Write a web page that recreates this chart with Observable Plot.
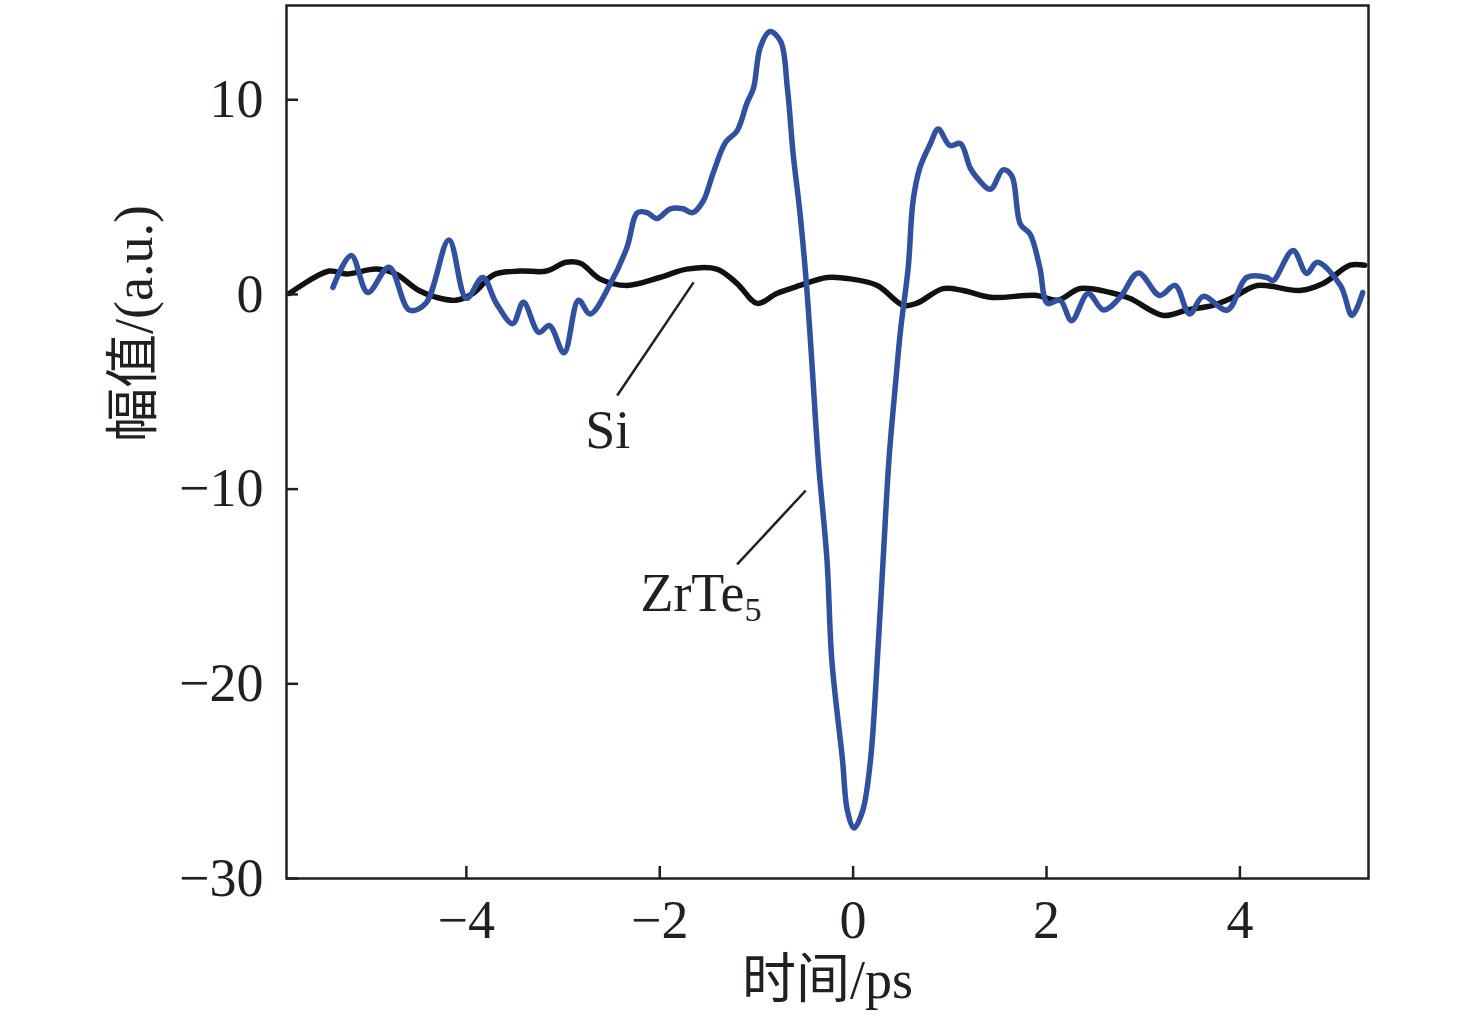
<!DOCTYPE html>
<html>
<head>
<meta charset="utf-8">
<script src="https://cdn.jsdelivr.net/npm/d3@7"></script>
<script src="https://cdn.jsdelivr.net/npm/@observablehq/plot@0.6"></script>
<style>
  html, body { margin: 0; padding: 0; background: #fff; }
  #chart svg { display: block; }
</style>
</head>
<body>
<div id="chart"></div>
<script>
// Time (ps) and amplitude (a.u.)
const siTime = [-5.83, -5.42, -5.24, -4.93, -4.73, -4.49, -4.31, -4.11, -3.93, -3.72, -3.45, -3.17, -2.97, -2.82, -2.62, -2.34, -2.00, -1.72, -1.41, -1.20, -0.99, -0.79, -0.55, -0.27, -0.03, 0.25, 0.52, 0.66, 0.93, 1.14, 1.42, 1.90, 2.11, 2.35, 2.66, 2.86, 3.21, 3.45, 3.72, 3.93, 4.18, 4.62, 4.86, 5.14, 5.29];
const siAmp  = [0.05, 1.2, 1.05, 1.3, 1.05, 0.2, -0.15, -0.3, 0.05, 1.0, 1.2, 1.2, 1.65, 1.6, 0.8, 0.46, 0.87, 1.3, 1.3, 0.56, -0.46, 0.05, 0.46, 0.87, 0.8, 0.46, -0.56, -0.45, 0.3, 0.2, -0.15, -0.05, -0.3, 0.3, 0.1, -0.2, -1.08, -0.8, -0.56, -0.15, 0.46, 0.2, 0.56, 1.5, 1.5];

const zrTime = [-5.38, -5.19, -5.02, -4.80, -4.59, -4.42, -4.18, -4.00, -3.83, -3.69, -3.52, -3.41, -3.25, -3.14, -2.99, -2.84, -2.72, -2.51, -2.34, -2.23, -2.13, -2.03, -1.89, -1.76, -1.66, -1.55, -1.45, -1.32, -1.20, -1.10, -1.03, -0.96, -0.86, -0.75, -0.68, -0.62, -0.55, -0.48, -0.42, -0.36, -0.27, -0.22, -0.11, -0.06, 0.01, 0.10, 0.18, 0.25, 0.31, 0.37, 0.44, 0.49, 0.57, 0.62, 0.69, 0.80, 0.88, 1.00, 1.11, 1.21, 1.28, 1.42, 1.55, 1.64, 1.73, 1.83, 1.93, 2.01, 2.14, 2.26, 2.43, 2.59, 2.76, 2.95, 3.17, 3.33, 3.48, 3.62, 3.87, 4.07, 4.28, 4.34, 4.55, 4.69, 4.80, 5.04, 5.16, 5.27];
const zrAmp  = [0.36, 2.0, 0.1, 1.4, -0.8, -0.46, 2.8, -0.2, 0.87, -0.46, -1.5, -0.4, -1.95, -1.6, -3.0, -0.3, -1.0, 0.56, 2.4, 4.2, 4.2, 3.9, 4.4, 4.4, 4.2, 4.8, 6.2, 7.8, 8.4, 9.8, 10.6, 12.7, 13.5, 13.0, 10.6, 7.2, 4.2, 0.36, -4.0, -8.53, -13.66, -18.8, -23.9, -26.5, -27.4, -26.5, -23.9, -18.8, -13.66, -8.53, -4.5, -1.85, 1.4, 4.8, 6.5, 7.75, 8.5, 7.65, 7.75, 6.5, 6.0, 5.4, 6.4, 6.1, 3.6, 3.1, 1.4, -0.46, -0.3, -1.35, 0.05, -0.8, -0.15, 1.1, -0.05, 0.46, -1.0, -0.1, -0.8, 0.87, 0.87, 0.7, 2.26, 1.08, 1.65, 0.46, -1.08, 0.1];

const xTicks = [-4, -2, 0, 2, 4];
const yTicks = [10, 0, -10, -20, -30];
const xLabel = "时间/ps";
const yLabel = "幅值/(a.u.)";

// Series labels with leader lines (data units)
const labelNames = ["Si", "ZrTe5"];
const labelX = [-2.77, -2.20];
const labelY = [-6.98, -15.36];
const leaderX1 = [-2.44, -1.20];
const leaderY1 = [-5.19, -13.87];
const leaderX2 = [-1.65, -0.49];
const leaderY2 = [0.62, -10.07];

const si = siTime.map((t, i) => ({t, v: siAmp[i]}));
const zr = zrTime.map((t, i) => ({t, v: zrAmp[i]}));
const labels = labelNames.map((name, i) => ({name, x: labelX[i], y: labelY[i]}));
const leaders = labelNames.map((name, i) => ({x1: leaderX1[i], y1: leaderY1[i], x2: leaderX2[i], y2: leaderY2[i]}));

const FONT = "'Liberation Serif', 'Times New Roman', 'Noto Sans CJK SC', serif";

const chart = Plot.plot({
  width: 1476,
  height: 1023,
  marginLeft: 286,
  marginRight: 108,
  marginTop: 5,
  marginBottom: 145,
  style: {fontFamily: FONT, fontSize: "54px", color: "#231f20", background: "#fff"},
  x: {domain: [-5.86, 5.33]},
  y: {domain: [-30, 14.84]},
  marks: [
    Plot.line(si, {x: "t", y: "v", stroke: "#111", strokeWidth: 5.5, curve: "catmull-rom"}),
    Plot.line(zr, {x: "t", y: "v", stroke: "#3150a0", strokeWidth: 5.5, curve: "catmull-rom"}),
    Plot.link(leaders, {x1: "x1", y1: "y1", x2: "x2", y2: "y2", stroke: "#231f20", strokeWidth: 2.5}),
    Plot.text(labels, {x: "x", y: "y", text: "name", textAnchor: "start", lineAnchor: "middle", fontSize: 54, fill: "#231f20"}),
    Plot.axisX({ticks: xTicks, tickSize: -12, strokeWidth: 2.5, tickFormat: () => "", label: null}),
    Plot.axisY({ticks: yTicks, tickSize: -12, strokeWidth: 2.5, tickFormat: () => "", label: null}),
    Plot.axisX({ticks: xTicks, tickSize: 0, tickPadding: 21, tickFormat: d => d < 0 ? "\u2212" + Math.abs(d) : String(d), label: null, fontSize: 54}),
    Plot.axisY({ticks: yTicks, tickSize: 0, tickPadding: 23, tickFormat: d => d < 0 ? "\u2212" + Math.abs(d) : String(d), label: null, fontSize: 54}),
    Plot.frame({stroke: "#231f20", strokeWidth: 2.5}),
    Plot.text([xLabel], {frameAnchor: "bottom", dy: 102, lineAnchor: "middle", fontSize: 54, fill: "#231f20"}),
    Plot.text([yLabel], {frameAnchor: "left", dx: -152, rotate: -90, lineAnchor: "middle", fontSize: 54, fill: "#231f20"})
  ]
});

// subscript for ZrTe5
d3.select(chart).selectAll("text").each(function() {
  const el = d3.select(this);
  if (el.text() === "ZrTe5") {
    el.text("");
    el.append("tspan").text("ZrTe");
    el.append("tspan").attr("font-size", "34px").attr("dy", "0.3em").text("5");
  }
});

document.getElementById("chart").appendChild(chart);
</script>
</body>
</html>
